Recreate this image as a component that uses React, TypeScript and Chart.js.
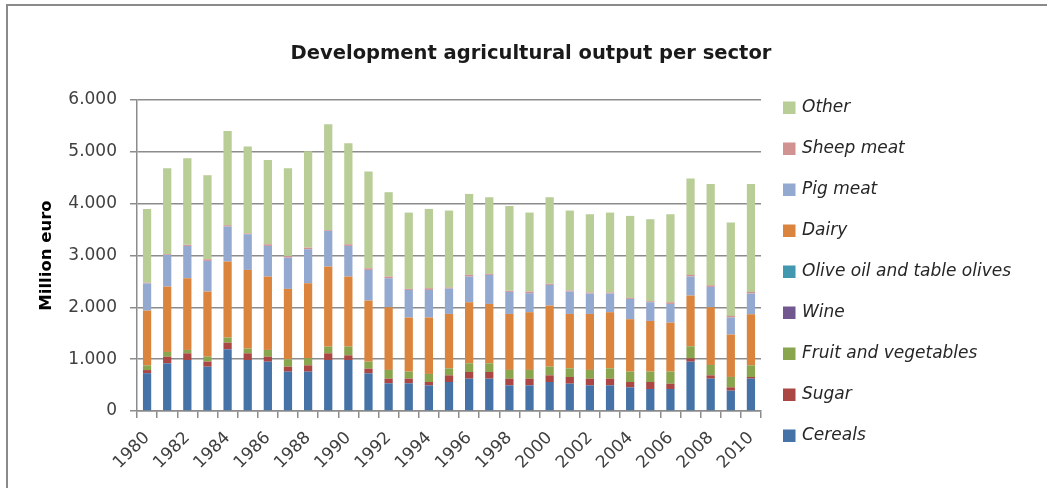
import { useEffect, useRef } from "react";
import { Chart, registerables } from "chart.js";

Chart.register(...registerables);

const years = [
  "1980", "1981", "1982", "1983", "1984", "1985", "1986", "1987", "1988", "1989",
  "1990", "1991", "1992", "1993", "1994", "1995", "1996", "1997", "1998", "1999",
  "2000", "2001", "2002", "2003", "2004", "2005", "2006", "2007", "2008", "2009", "2010",
];

const cereals = [730, 920, 984, 855, 1190, 984, 952, 759, 759, 984, 984, 727, 534, 534, 495, 559, 624, 624, 495, 495, 559, 527, 495, 495, 457, 424, 424, 952, 624, 392, 624];
const sugar = [60, 128, 129, 97, 128, 129, 96, 96, 122, 129, 90, 90, 90, 90, 64, 129, 128, 128, 129, 129, 129, 129, 129, 129, 102, 135, 103, 64, 64, 65, 32];
const fruitVeg = [90, 90, 64, 96, 97, 90, 129, 142, 135, 128, 167, 135, 167, 135, 155, 135, 168, 168, 167, 167, 167, 167, 167, 199, 200, 200, 232, 232, 199, 199, 225];
const wine = [2, 2, 2, 2, 2, 2, 2, 2, 2, 2, 2, 2, 2, 2, 2, 2, 2, 2, 2, 2, 2, 2, 2, 2, 2, 2, 2, 2, 2, 2, 2];
const oliveOil = [0, 0, 0, 0, 0, 0, 0, 0, 0, 0, 0, 0, 0, 0, 0, 0, 0, 0, 0, 0, 0, 0, 0, 0, 0, 0, 0, 0, 0, 0, 0];
const dairy = [1055, 1261, 1382, 1254, 1466, 1517, 1415, 1357, 1447, 1544, 1351, 1177, 1209, 1042, 1087, 1048, 1176, 1144, 1080, 1113, 1177, 1048, 1080, 1081, 1010, 977, 945, 977, 1113, 817, 984];
const pigMeat = [525, 611, 624, 592, 675, 688, 591, 604, 656, 688, 591, 591, 559, 533, 533, 489, 496, 560, 425, 366, 399, 431, 393, 360, 392, 360, 360, 367, 392, 328, 399];
const sheepMeat = [15, 15, 20, 32, 26, 15, 32, 32, 32, 15, 32, 32, 33, 20, 33, 20, 32, 20, 20, 32, 20, 20, 20, 20, 20, 20, 32, 32, 32, 32, 32];
const other = [1420, 1657, 1672, 1621, 1820, 1677, 1627, 1692, 1859, 2043, 1949, 1865, 1627, 1472, 1530, 1485, 1562, 1478, 1639, 1524, 1671, 1543, 1510, 1542, 1581, 1582, 1698, 1858, 1955, 1800, 2083];

const seriesNames = [
  "Cereals", "Sugar", "Fruit and vegetables", "Wine", "Olive oil and table olives",
  "Dairy", "Pig meat", "Sheep meat", "Other",
];
const seriesColors = [
  "#4572A7", "#AA4643", "#89A54E", "#71588F", "#4198AF",
  "#DB843D", "#93A9CF", "#D19392", "#B9CD96",
];
const seriesValues = [cereals, sugar, fruitVeg, wine, oliveOil, dairy, pigMeat, sheepMeat, other];

const chartTitle = "Development agricultural output per sector";
const yTitle = "Million euro";

const FONT = "'DejaVu Sans', sans-serif";
const GRID = "#8c8c8c";

const fmt = (v: number | string) =>
  String(v).replace(/\B(?=(\d{3})+(?!\d))/g, ".");

// white background + the visible (top/left) edge of the chart frame
const framePlugin = {
  id: "frame",
  beforeDraw(chart: any) {
    const { ctx, width, height } = chart;
    ctx.save();
    ctx.fillStyle = "#ffffff";
    ctx.fillRect(0, 0, width, height);
    ctx.strokeStyle = "#8a8a8a";
    ctx.lineWidth = 2;
    ctx.beginPath();
    ctx.moveTo(7, height + 4);
    ctx.lineTo(7, 5);
    ctx.lineTo(width + 4, 5);
    ctx.stroke();
    ctx.restore();
  },
};

// chart title, centred on the frame
const titlePlugin = {
  id: "frameTitle",
  afterDraw(chart: any) {
    const { ctx, width } = chart;
    ctx.save();
    ctx.fillStyle = "#1a1a1a";
    ctx.font = `bold 19.5px ${FONT}`;
    ctx.textAlign = "center";
    ctx.textBaseline = "middle";
    ctx.fillText(chartTitle, (width + 15) / 2, 54);
    ctx.restore();
  },
};

// Excel-style legend to the right of the plot, top series first
const legendPlugin = {
  id: "sideLegend",
  afterDraw(chart: any) {
    const { ctx, chartArea } = chart;
    const sets = chart.data.datasets.slice().reverse();
    const boxX = chartArea.right + 22;
    const step = 41;
    ctx.save();
    ctx.font = `italic 17px ${FONT}`;
    ctx.textAlign = "left";
    ctx.textBaseline = "middle";
    sets.forEach((ds: any, k: number) => {
      const cy = chartArea.top + 7.5 + k * step;
      ctx.fillStyle = ds.backgroundColor;
      ctx.fillRect(boxX, cy - 6, 12.5, 12.5);
      ctx.fillStyle = "#262626";
      ctx.fillText(ds.label, boxX + 19, cy + 0.5);
    });
    ctx.restore();
  },
};

export default function App() {
  const canvasRef = useRef<HTMLCanvasElement | null>(null);

  useEffect(() => {
    const canvas = canvasRef.current;
    if (!canvas) return;
    const chart = new Chart(canvas, {
      type: "bar",
      data: {
        labels: years,
        datasets: seriesNames.map((name, i) => ({
          label: name,
          data: seriesValues[i],
          backgroundColor: seriesColors[i],
          borderWidth: 0,
          barPercentage: 0.41,
          categoryPercentage: 1,
        })),
      },
      options: {
        responsive: false,
        animation: false,
        devicePixelRatio: 1,
        layout: { padding: { left: 7, right: 286, top: 100, bottom: 0 } },
        plugins: {
          title: { display: false },
          legend: { display: false },
          tooltip: { enabled: false },
        },
        scales: {
          x: {
            stacked: true,
            grid: {
              display: true,
              drawOnChartArea: false,
              drawTicks: true,
              tickLength: 7,
              color: GRID,
              lineWidth: 1.5,
            },
            border: { display: true, color: GRID, width: 1.5 },
            ticks: {
              autoSkip: false,
              minRotation: 45,
              maxRotation: 45,
              padding: 10,
              color: "#404040",
              font: { family: FONT, size: 17 },
              callback: (_v: any, i: number) => (i % 2 === 0 ? years[i] : ""),
            },
            afterFit: (s: any) => {
              s.height = 77;
            },
          },
          y: {
            stacked: true,
            min: 0,
            max: 6000,
            grid: { color: GRID, lineWidth: 1.5, tickLength: 7, drawTicks: true },
            border: { display: true, color: GRID, width: 1.5 },
            ticks: {
              stepSize: 1000,
              padding: 13,
              color: "#404040",
              font: { family: FONT, size: 17 },
              callback: (v: any) => fmt(v),
            },
            title: {
              display: true,
              text: yTitle,
              color: "#000000",
              font: { family: FONT, size: 16.5, weight: "bold" },
              padding: { top: 30, bottom: 0 },
            },
            afterFit: (s: any) => {
              s.width = 130;
            },
          },
        },
      },
      plugins: [framePlugin, titlePlugin, legendPlugin],
    });
    return () => chart.destroy();
  }, []);

  return (
    <div style={{ position: "absolute", left: 0, top: 0, width: 1047, height: 488 }}>
      <canvas ref={canvasRef} width={1047} height={488} />
    </div>
  );
}
